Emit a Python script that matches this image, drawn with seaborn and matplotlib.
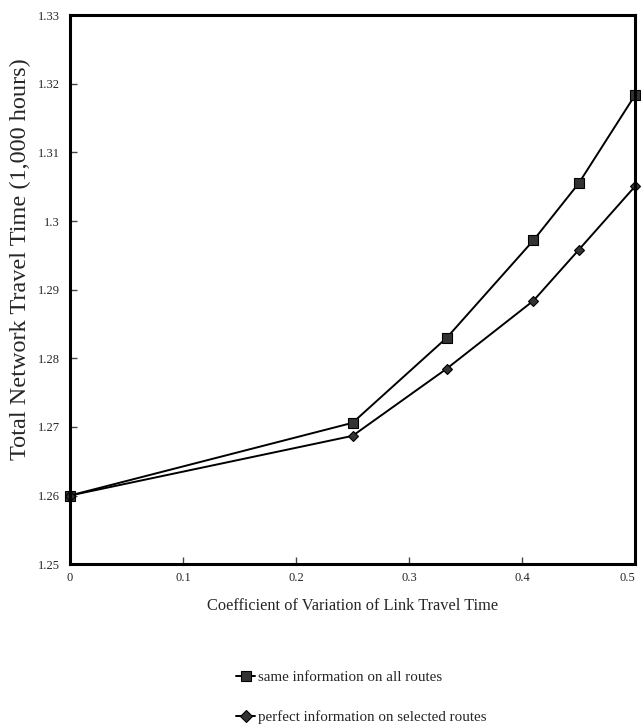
import matplotlib

matplotlib.use("Agg")
import matplotlib.pyplot as plt
import matplotlib.ticker as mticker
import numpy as np
import pandas as pd
import seaborn as sns

# data
cv = [0.0, 0.25, 1 / 3, 0.41, 0.45, 0.5]
same_info = [1.2600, 1.2706, 1.2830, 1.2972, 1.3055, 1.3184]
perfect_info = [1.2600, 1.2687, 1.2785, 1.2884, 1.2958, 1.3051]
series_names = ["same information on all routes", "perfect information on selected routes"]
x_ticks = [0, 0.1, 0.2, 0.3, 0.4, 0.5]
y_ticks = [1.25, 1.26, 1.27, 1.28, 1.29, 1.30, 1.31, 1.32, 1.33]

df = pd.DataFrame(
    {
        "cv": cv * 2,
        "time": same_info + perfect_info,
        "series": [series_names[0]] * len(cv) + [series_names[1]] * len(cv),
    }
)

sns.set_style("white")
plt.rcParams["font.family"] = ["Liberation Serif", "DejaVu Serif"]

fig = plt.figure(figsize=(6.41, 7.27), dpi=100)
ax = fig.add_axes([0.109, 0.224, 0.882, 0.755])

sns.lineplot(
    data=df,
    x="cv",
    y="time",
    hue="series",
    style="series",
    palette=["black", "black"],
    markers={series_names[0]: "s", series_names[1]: "D"},
    dashes=False,
    markersize=6.5,
    markerfacecolor="#333333",
    markeredgecolor="black",
    markeredgewidth=0.8,
    linewidth=1.4,
    clip_on=False,
    ax=ax,
)
# diamonds a bit smaller than squares
ax.lines[1].set_markersize(5.5)

ax.set_xlim(0, 0.5)
ax.set_ylim(1.25, 1.33)
ax.set_xticks(x_ticks)
ax.set_yticks(y_ticks)
ax.xaxis.set_major_formatter(mticker.FormatStrFormatter("%g"))
ax.yaxis.set_major_formatter(mticker.FuncFormatter(lambda v, _: f"{round(v, 2):g}"))
ax.tick_params(axis="both", direction="in", length=5, width=1, color="#444444",
               labelsize=9, left=True, bottom=True)
ax.tick_params(axis="x", pad=6)
ax.tick_params(axis="y", pad=7)

# last x label sits on the right edge; keep it inside the figure
fig.canvas.draw()
ax.get_xticklabels()[-1].set_horizontalalignment("right")

for side in ["left", "right", "top", "bottom"]:
    ax.spines[side].set_visible(True)
    ax.spines[side].set_color("black")
    ax.spines[side].set_linewidth(2.2)

ax.set_xlabel("Coefficient of Variation of Link Travel Time", fontsize=11.8, labelpad=10)
ax.set_ylabel("Total Network Travel Time (1,000 hours)", fontsize=17.5)
ax.yaxis.set_label_coords(-0.068, 0.555)

handles, labels = ax.get_legend_handles_labels()
ax.get_legend().remove()
fig.legend(
    handles,
    labels,
    loc="upper left",
    bbox_to_anchor=(0.347, 0.096),
    bbox_transform=fig.transFigure,
    frameon=False,
    fontsize=10.8,
    handlelength=1.3,
    handletextpad=0.15,
    labelspacing=1.75,
)

fig.savefig("out.png", dpi=100, facecolor="white")
